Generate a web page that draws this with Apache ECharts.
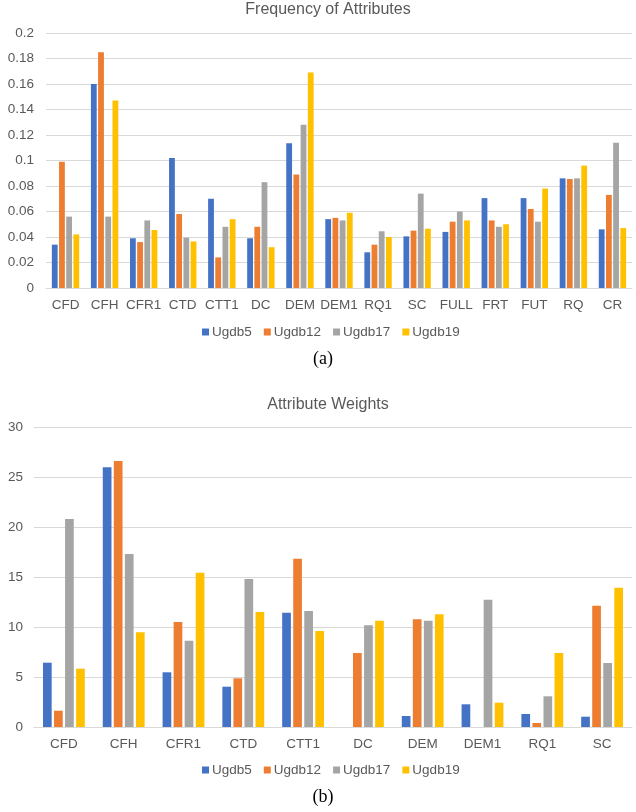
<!DOCTYPE html>
<html>
<head>
<meta charset="utf-8">
<script src="https://cdn.jsdelivr.net/npm/echarts@6/dist/echarts.min.js"></script>
<style>
html,body{margin:0;padding:0;background:#fff;}
#c{width:636px;height:812px;}
</style>
</head>
<body>
<div id="c"></div>
<script>
// Chart (a): Frequency of Attributes
var categoriesA = ['CFD','CFH','CFR1','CTD','CTT1','DC','DEM','DEM1','RQ1','SC','FULL','FRT','FUT','RQ','CR'];
var ugdb5A  = [0.034,0.160,0.039,0.102,0.070,0.039,0.1135,0.054,0.028,0.0405,0.044,0.0705,0.0705,0.086,0.046];
var ugdb12A = [0.099,0.185,0.036,0.058,0.024,0.048,0.089,0.055,0.034,0.045,0.052,0.053,0.062,0.0855,0.073];
var ugdb17A = [0.056,0.056,0.053,0.0395,0.048,0.083,0.128,0.053,0.0445,0.074,0.060,0.048,0.052,0.086,0.114];
var ugdb19A = [0.042,0.147,0.0455,0.0365,0.054,0.032,0.169,0.059,0.040,0.0465,0.053,0.050,0.078,0.096,0.047];

// Chart (b): Attribute Weights
var categoriesB = ['CFD','CFH','CFR1','CTD','CTT1','DC','DEM','DEM1','RQ1','SC'];
var ugdb5B  = [6.43,25.97,5.47,4.03,11.43,0,1.1,2.27,1.3,1.03];
var ugdb12B = [1.63,26.6,10.5,4.87,16.83,7.4,10.77,0,0.4,12.13];
var ugdb17B = [20.8,17.3,8.63,14.8,11.6,10.17,10.63,12.73,3.07,6.4];
var ugdb19B = [5.83,9.47,15.43,11.5,9.6,10.63,11.27,2.43,7.4,13.93];

var seriesNames = ['Ugdb5','Ugdb12','Ugdb17','Ugdb19'];
var colors = ['#4472C4','#ED7D31','#A5A5A5','#FFC000'];
var txt = '#595959';
var ff = '"Liberation Sans", Arial, sans-serif';

var dataA = [ugdb5A, ugdb12A, ugdb17A, ugdb19A];
var dataB = [ugdb5B, ugdb12B, ugdb17B, ugdb19B];

var series = [];
seriesNames.forEach(function(n, i){
  series.push({name:n, type:'bar', xAxisIndex:0, yAxisIndex:0, data:dataA[i],
    barWidth:5.8, barGap:'24%', itemStyle:{color:colors[i]}, animation:false});
});
seriesNames.forEach(function(n, i){
  series.push({name:n, type:'bar', xAxisIndex:1, yAxisIndex:1, data:dataB[i],
    barWidth:8.7, barGap:'27%', itemStyle:{color:colors[i]}, animation:false});
});

var chart = echarts.init(document.getElementById('c'), null, {renderer:'canvas'});
chart.setOption({
  backgroundColor:'#fff',
  color: colors,
  textStyle:{fontFamily:ff},
  grid:[
    {left:46, top:33, width:586, height:255},
    {left:34, top:427, width:598, height:300}
  ],
  xAxis:[
    {type:'category', gridIndex:0, data:categoriesA,
     axisLine:{lineStyle:{color:'#d9d9d9'}}, axisTick:{show:false},
     axisLabel:{color:txt, fontSize:13.5, margin:10, interval:0, fontFamily:ff}},
    {type:'category', gridIndex:1, data:categoriesB,
     axisLine:{lineStyle:{color:'#d9d9d9'}}, axisTick:{show:false},
     axisLabel:{color:txt, fontSize:13.5, margin:10, interval:0, fontFamily:ff}}
  ],
  yAxis:[
    {type:'value', gridIndex:0, min:0, max:0.2, interval:0.02,
     axisLine:{show:false}, axisTick:{show:false},
     splitLine:{lineStyle:{color:'#d9d9d9'}},
     axisLabel:{color:txt, fontSize:13.5, margin:12, fontFamily:ff}},
    {type:'value', gridIndex:1, min:0, max:30, interval:5,
     axisLine:{show:false}, axisTick:{show:false},
     splitLine:{lineStyle:{color:'#d9d9d9'}},
     axisLabel:{color:txt, fontSize:13.5, margin:11, fontFamily:ff}}
  ],
  legend:[
    {data:seriesNames, left:197, top:320, itemWidth:7, itemHeight:7, itemGap:12,
     icon:'rect', textStyle:{color:txt, fontSize:13.5, fontFamily:ff, padding:[0,0,0,-2]}},
    {data:seriesNames, left:197, top:758, itemWidth:7, itemHeight:7, itemGap:12,
     icon:'rect', textStyle:{color:txt, fontSize:13.5, fontFamily:ff, padding:[0,0,0,-2]}}
  ],
  graphic:[
    {type:'text', x:328, y:10, style:{text:'Frequency of Attributes', fill:txt,
      font:'16px "Liberation Sans", Arial, sans-serif', textAlign:'center', textVerticalAlign:'middle'}},
    {type:'text', x:328, y:405, style:{text:'Attribute Weights', fill:txt,
      font:'16px "Liberation Sans", Arial, sans-serif', textAlign:'center', textVerticalAlign:'middle'}},
    {type:'text', x:323, y:359, style:{text:'(a)', fill:'#000',
      font:'18px "Liberation Serif", "Times New Roman", serif', textAlign:'center', textVerticalAlign:'middle'}},
    {type:'text', x:323, y:797, style:{text:'(b)', fill:'#000',
      font:'18px "Liberation Serif", "Times New Roman", serif', textAlign:'center', textVerticalAlign:'middle'}}
  ],
  series: series
});
</script>
</body>
</html>
